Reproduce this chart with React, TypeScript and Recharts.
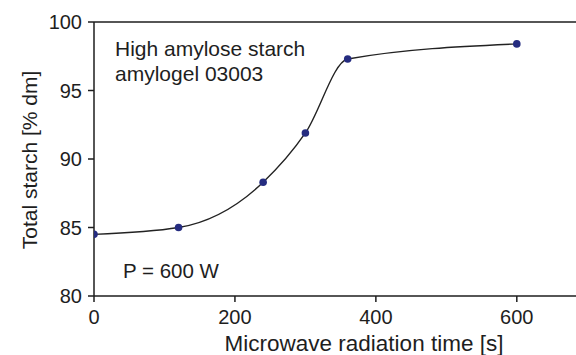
import { LineChart, Line, XAxis, YAxis, ReferenceLine, Customized } from "recharts";

const times = [0, 120, 240, 300, 360, 600];
const starch = [84.5, 85.0, 88.3, 91.9, 97.3, 98.4];
const xTicks = [0, 200, 400, 600];
const yTicks = [80, 85, 90, 95, 100];

const data = times.map((t, i) => ({ time: t, starch: starch[i] }));

const FONT = "'Liberation Sans', Arial, Helvetica, sans-serif";
const INK = "#1e1e1e";

const Notes = () => (
  <g fontFamily={FONT} fill={INK} fontSize={21}>
    <text x={115} y={56}>High amylose starch</text>
    <text x={115} y={81}>amylogel 03003</text>
    <text x={123} y={278} fontSize={20.5}>
      P = 600 W
    </text>
  </g>
);

export default function App() {
  return (
    <div style={{ width: 576, height: 355 }}>
      <style>{"body{margin:0;overflow:hidden}"}</style>
      <LineChart
        width={576}
        height={355}
        data={data}
        margin={{ top: 22, right: 0, bottom: 0, left: 8 }}
      >
        <XAxis
          dataKey="time"
          type="number"
          domain={[0, 684]}
          ticks={xTicks}
          allowDataOverflow
          height={59}
          stroke={INK}
          strokeWidth={1.5}
          tickSize={6}
          tickMargin={8}
          tick={{ fill: INK, fontSize: 20, fontFamily: FONT }}
          label={({ viewBox }: any) => (
            <text
              x={364}
              y={viewBox.y + 55}
              textAnchor="middle"
              fill={INK}
              fontSize={22.5}
              fontFamily={FONT}
            >
              Microwave radiation time [s]
            </text>
          )}
        />
        <YAxis
          type="number"
          domain={[80, 100]}
          ticks={yTicks}
          width={86}
          stroke={INK}
          strokeWidth={1.5}
          tickSize={6}
          tickMargin={6}
          tick={{ fill: INK, fontSize: 20, fontFamily: FONT }}
          label={() => (
            <text
              x={0}
              y={0}
              transform="translate(37,160) rotate(-90)"
              textAnchor="middle"
              fill={INK}
              fontSize={21}
              fontFamily={FONT}
            >
              Total starch [% dm]
            </text>
          )}
        />
        <ReferenceLine y={100} stroke={INK} strokeWidth={1.5} />
        <Line
          type="monotone"
          dataKey="starch"
          stroke="#222"
          strokeWidth={1.4}
          dot={{ r: 3.8, fill: "#252c80", stroke: "#252c80", strokeWidth: 0 }}
          isAnimationActive={false}
        />
        <Customized component={Notes} />
      </LineChart>
    </div>
  );
}
